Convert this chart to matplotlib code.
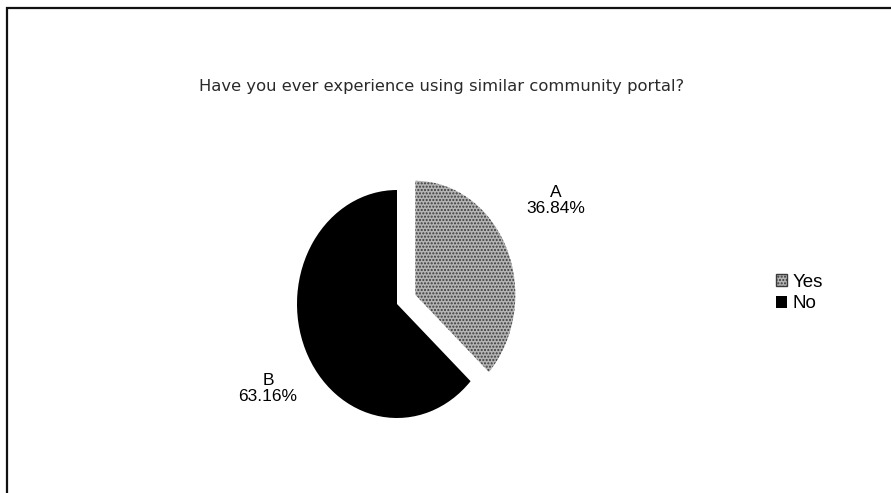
import matplotlib
matplotlib.use("Agg")
import matplotlib.pyplot as plt
from matplotlib.patches import Rectangle, Patch

title = "Have you ever experience using similar community portal?"
answers = ["Yes", "No"]
slice_tags = ["A", "B"]
shares = [36.84, 63.16]
colors = ["#b4b4b4", "#000000"]
explode = [0.2, 0.0]

W, H = 891, 493
fig = plt.figure(figsize=(W / 100, H / 100), dpi=100)

# frame around the chart area (only top and left edges fall inside the canvas)
fig.patches.append(Rectangle((7 / W, -0.1), 1.2, (H - 8) / H + 0.1,
                             transform=fig.transFigure, fill=False,
                             edgecolor="#111111", linewidth=1.6))

fig.text(442 / W, 1 - 86 / H, title, ha="center", va="center",
         fontsize=11.8, family="DejaVu Sans", color="#2a2a2a")

# pie axes: 1 data unit = 100 px across, 114 px down
cx, cy = 397, H - 304
span = 1.4
ax = fig.add_axes([(cx - span * 100) / W, (cy - span * 114) / H,
                   2 * span * 100 / W, 2 * span * 114 / H])
wedges, _ = ax.pie(shares, colors=colors, explode=explode, startangle=90,
                   counterclock=False, wedgeprops=dict(linewidth=0))
wedges[0].set_hatch(".....")
wedges[0].set_edgecolor("#3a3a3a")
ax.set_aspect("auto")
ax.set_xlim(-span, span)
ax.set_ylim(-span, span)
ax.axis("off")

label_pos = [(1.59, 0.91), (-1.29, -0.74)]
for (x, y), tag, v in zip(label_pos, slice_tags, shares):
    ax.text(x, y, f"{tag}\n{v:.2f}%", ha="center", va="center",
            fontsize=12.5, family="Liberation Sans", linespacing=1.05)

handles = [Patch(facecolor=c, edgecolor="none") for c in colors]
handles[0].set_hatch(".....")
handles[0].set_edgecolor("#3a3a3a")
fig.legend(handles, answers, loc="center left",
           bbox_to_anchor=(767 / W, 1 - 293 / H), frameon=False,
           prop=dict(family="Liberation Sans", size=13.5),
           handlelength=0.55, handleheight=0.6, handletextpad=0.3,
           labelspacing=0.25, borderpad=0)

fig.savefig("out.png", dpi=100)
